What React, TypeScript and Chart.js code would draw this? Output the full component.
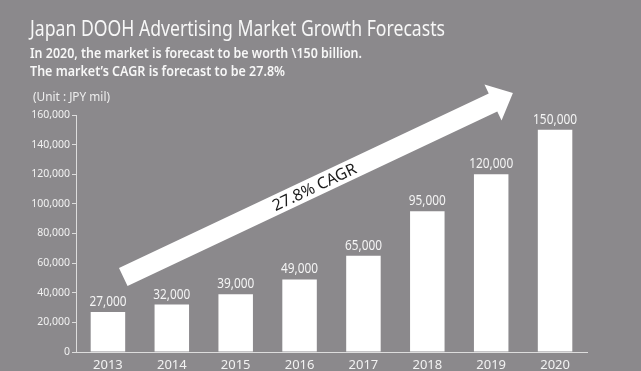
import { useEffect, useRef } from "react";
import { Chart, registerables } from "chart.js";

Chart.register(...registerables);

// ---- data ----
const YEARS = ["2013", "2014", "2015", "2016", "2017", "2018", "2019", "2020"];
const MARKET_SIZE = [27000, 32000, 39000, 49000, 65000, 95000, 120000, 150000];
const Y_MIN = 0;
const Y_MAX = 160000;
const Y_STEP = 20000;

const TITLE = "Japan DOOH Advertising Market Growth Forecasts";
const SUBTITLE_LINES = [
  "In 2020, the market is forecast to be worth \\150 billion.",
  "The market\u2019s CAGR is forecast to be 27.8%",
];
const UNIT_LABEL = "(Unit : JPY mil)";
const ARROW_LABEL = "27.8% CAGR";
// arrow anchored in data space: category index (fractional) and value
const ARROW_FROM = { index: 0.24, value: 50600 };
const ARROW_TO = { index: 6.34, value: 174800 };

const BG = "#8b898c";
const FONT = "'Noto Sans', 'Open Sans', sans-serif";

const fmt = (v: number) => v.toLocaleString("en-US");

const backgroundPlugin = {
  id: "bg",
  beforeDraw(chart: any) {
    const { ctx, width, height } = chart;
    ctx.save();
    ctx.fillStyle = BG;
    ctx.fillRect(0, 0, width, height);
    ctx.restore();
  },
};

const headerPlugin = {
  id: "header",
  afterDraw(chart: any) {
    const ctx = chart.ctx as CanvasRenderingContext2D;
    ctx.save();
    ctx.textAlign = "left";
    ctx.textBaseline = "alphabetic";
    ctx.fillStyle = "#f7f7f7";
    ctx.font = `21px ${FONT}`;
    ctx.fillText(TITLE, 30, 36, 415);
    ctx.font = `600 14.5px ${FONT}`;
    ctx.fillText(SUBTITLE_LINES[0], 30, 58, 332);
    ctx.fillText(SUBTITLE_LINES[1], 30, 76, 255);
    ctx.fillStyle = "#eeeeee";
    ctx.font = `12.5px ${FONT}`;
    ctx.fillText(UNIT_LABEL, 33, 101, 77);
    ctx.restore();
  },
};

const dataLabelPlugin = {
  id: "dataLabels",
  afterDatasetsDraw(chart: any) {
    const ctx = chart.ctx as CanvasRenderingContext2D;
    const meta = chart.getDatasetMeta(0);
    const data = chart.data.datasets[0].data as number[];
    ctx.save();
    ctx.fillStyle = "#f4f4f4";
    ctx.font = `14px ${FONT}`;
    ctx.textAlign = "center";
    ctx.textBaseline = "alphabetic";
    meta.data.forEach((el: any, i: number) => {
      const w = data[i] >= 100000 ? 44 : 37;
      ctx.fillText(fmt(data[i]), el.x, el.y - 6, w);
    });
    ctx.restore();
  },
};

const arrowPlugin = {
  id: "cagrArrow",
  afterDatasetsDraw(chart: any) {
    const ctx = chart.ctx as CanvasRenderingContext2D;
    const xs = chart.scales.x;
    const ys = chart.scales.y;
    const x0 = xs.getPixelForValue(ARROW_FROM.index);
    const y0 = ys.getPixelForValue(ARROW_FROM.value);
    const x1 = xs.getPixelForValue(ARROW_TO.index);
    const y1 = ys.getPixelForValue(ARROW_TO.value);
    const len = Math.hypot(x1 - x0, y1 - y0);
    const ang = Math.atan2(y1 - y0, x1 - x0);
    const shaftHalf = 10;
    const headHalf = 20;
    const headLen = 22;
    ctx.save();
    ctx.translate(x0, y0);
    ctx.rotate(ang);
    ctx.fillStyle = "#ffffff";
    ctx.beginPath();
    ctx.moveTo(0, -shaftHalf);
    ctx.lineTo(len - headLen, -shaftHalf);
    ctx.lineTo(len - headLen, -headHalf);
    ctx.lineTo(len, 0);
    ctx.lineTo(len - headLen, headHalf);
    ctx.lineTo(len - headLen, shaftHalf);
    ctx.lineTo(0, shaftHalf);
    ctx.closePath();
    ctx.fill();
    ctx.fillStyle = "#1c1c1c";
    ctx.font = `16px ${FONT}`;
    ctx.textAlign = "center";
    ctx.textBaseline = "middle";
    ctx.fillText(ARROW_LABEL, len * 0.49, 1, 98);
    ctx.restore();
  },
};

export default function App() {
  const ref = useRef<HTMLCanvasElement | null>(null);

  useEffect(() => {
    if (!ref.current) return;
    const chart = new Chart(ref.current, {
      type: "bar",
      data: {
        labels: YEARS,
        datasets: [
          {
            data: MARKET_SIZE,
            backgroundColor: "#ffffff",
            borderWidth: 0,
            categoryPercentage: 1,
            barPercentage: 0.54,
          },
        ],
      },
      options: {
        animation: false,
        responsive: false,
        devicePixelRatio: 1,
        layout: { padding: { top: 115, right: 54, bottom: 0, left: 0 } },
        plugins: {
          legend: { display: false },
          tooltip: { enabled: false },
          title: { display: false },
        },
        scales: {
          x: {
            grid: { display: true, drawOnChartArea: false, drawTicks: false, color: "#dddddd" },
            border: { display: true, color: "#dddddd", width: 1 },
            ticks: { color: "#f2f2f2", font: { family: FONT, size: 13 }, padding: 5 },
            afterFit: (s: any) => {
              s.height = 19;
            },
          },
          y: {
            min: Y_MIN,
            max: Y_MAX,
            grid: { display: true, drawOnChartArea: false, drawTicks: true, tickLength: 4, color: "#dddddd" },
            border: { display: true, color: "#dddddd", width: 1 },
            ticks: {
              stepSize: Y_STEP,
              color: "#f2f2f2",
              font: { family: FONT, size: 10.5 },
              padding: 2,
              callback: (v: any) => fmt(Number(v)),
            },
            afterFit: (s: any) => {
              s.width = 76;
            },
          },
        },
      },
      plugins: [backgroundPlugin, dataLabelPlugin, arrowPlugin, headerPlugin],
    });
    return () => chart.destroy();
  }, []);

  return (
    <div style={{ position: "absolute", left: 0, top: 0, width: 641, height: 371, background: BG }}>
      <canvas ref={ref} width={641} height={371} style={{ display: "block" }} />
    </div>
  );
}
